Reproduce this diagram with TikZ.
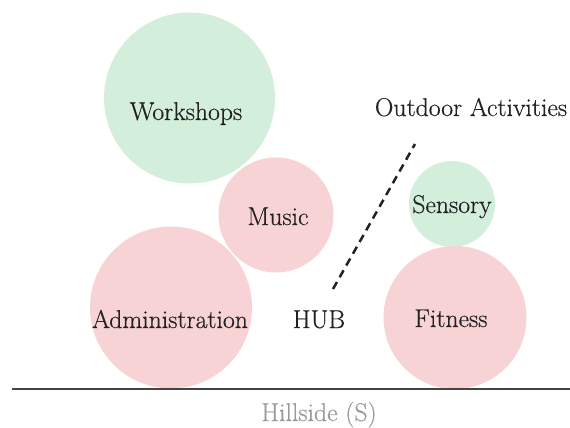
\documentclass[tikz,border=0pt]{standalone}
\usepackage{fontspec}
\setmainfont{Latin Modern Roman}[RawFeature={embolden=0.5}]
\definecolor{zgreen}{HTML}{D4EEDC}
\definecolor{zpink}{HTML}{F8D3D5}
\definecolor{ztext}{HTML}{222222}
\definecolor{zgray}{HTML}{9A9A9A}
\definecolor{zline}{HTML}{444444}
\tikzset{
  zone/.style={circle, inner sep=0pt, draw=none},
  gzone/.style={zone, fill=zgreen},
  pzone/.style={zone, fill=zpink},
  lbl/.style={anchor=base, inner sep=0pt, text=ztext, font=\fontsize{25.7}{30}\selectfont},
}
\begin{document}
\begin{tikzpicture}[x=1pt,y=-1pt]
\useasboundingbox (0,0) rectangle (570,428);
% zones
\node[gzone, minimum size=171] (workshopsC) at (189.5,98) {};
\node[pzone, minimum size=115] (musicC) at (276,215) {};
\node[pzone, minimum size=162] (adminC) at (171,307.5) {};
\node[gzone, minimum size=86] (sensoryC) at (452,204) {};
\node[pzone, minimum size=143] (fitnessC) at (455,317.5) {};
% labels
\node[lbl] (workshops) at (186,120) {Workshops};
\node[lbl] (music) at (278,225) {Music};
\node[lbl] (admin) at (170,328) {Administration};
\node[lbl] (hub) at (319,328) {HUB};
\node[lbl] (fitness) at (451,327) {Fitness};
\node[lbl] (sensory) at (452,213) {Sensory};
\node[lbl] (outdoor) at (471,116) {Outdoor Activities};
\node[lbl, text=zgray] (hillside) at (319,421) {Hillside (S)};
% dashed boundary
\coordinate (d1) at (333,289);
\coordinate (d2) at (415,144);
\draw[line width=2.5, ztext, dash pattern=on 8 off 5.5] (d1) -- (d2);
% ground line
\coordinate (g1) at (12,388.5);
\coordinate (g2) at (570,388.5);
\draw[line width=2, zline] (g1) -- (g2);
\end{tikzpicture}
\end{document}
